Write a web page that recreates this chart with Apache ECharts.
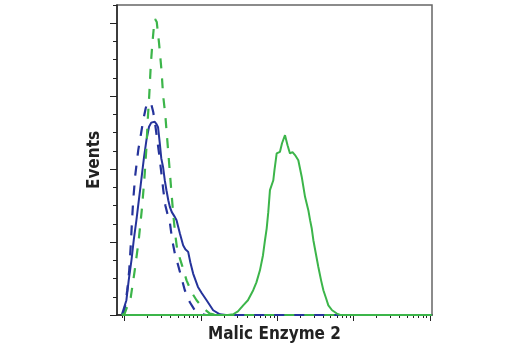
<!DOCTYPE html>
<html><head><meta charset="utf-8">
<script src="https://cdn.jsdelivr.net/npm/echarts@6/dist/echarts.min.js"></script>
<style>html,body{margin:0;padding:0;background:#fff}#c{width:520px;height:350px}</style>
</head><body><div id="c"></div>
<script>
const xTitle = 'Malic Enzyme 2';
const yTitle = 'Events';
// x: log10 of fluorescence intensity (decades), y: event count (relative)
const xMin = -0.097, xMax = 4.024;
const yMin = 0, yMax = 170, yStep = 10;
const yMajorTicks = [0, 40, 80, 120, 160];
const xDecades = [0, 1, 2, 3, 4];
const xMinorMultipliers = [2, 3, 4, 5, 6, 7, 8, 9];
const xExtraTicks = [-0.031];

const blueSolid = [[-0.035,0],[-0.018,0.4],[0.026,8.1],[0.056,19.0],[0.092,30.0],[0.122,41.0],[0.157,52.0],[0.178,59.3],[0.210,70.3],[0.236,79.5],[0.257,86.7],[0.288,95.9],[0.322,103.2],[0.351,105.5],[0.375,106.5],[0.397,106.0],[0.419,104.7],[0.440,103.0],[0.463,94.1],[0.482,86.0],[0.506,81.1],[0.528,73.9],[0.550,68.4],[0.574,62.9],[0.594,59.3],[0.620,56.4],[0.659,53.8],[0.682,52.0],[0.725,44.8],[0.768,38.2],[0.797,36.1],[0.834,34.6],[0.862,28.9],[0.899,22.7],[0.962,15.4],[1.013,11.9],[1.075,8.1],[1.161,2.6],[1.249,0.4],[1.328,0],[4.02,0]];
const blueDashed = [[-0.009,0],[0.010,5.3],[0.037,13.6],[0.063,24.5],[0.083,38.3],[0.100,52.0],[0.115,63.0],[0.142,76.7],[0.181,90.4],[0.214,98.6],[0.246,106.9],[0.279,113.5],[0.305,116.8],[0.325,117.3],[0.351,115.7],[0.377,111.3],[0.404,104.1],[0.430,95.9],[0.456,87.7],[0.482,78.3],[0.509,68.4],[0.535,60.2],[0.561,55.8],[0.594,50.9],[0.626,41.0],[0.659,33.9],[0.699,27.8],[0.738,21.8],[0.790,13.6],[0.856,7.0],[0.921,2.6],[0.987,0.7],[1.066,0],[4.02,0]];
const greenDashed = [[-0.035,0],[0.004,0.9],[0.083,9.7],[0.135,24.5],[0.187,41.0],[0.227,57.5],[0.260,73.9],[0.286,90.4],[0.305,106.9],[0.325,120.6],[0.345,137.1],[0.364,148.0],[0.384,157.4],[0.401,162.3],[0.423,160.7],[0.453,149.1],[0.485,134.3],[0.506,120.6],[0.535,109.6],[0.561,95.9],[0.587,82.2],[0.613,68.4],[0.640,54.7],[0.666,43.7],[0.692,35.5],[0.747,28.2],[0.813,19.0],[0.878,12.5],[0.944,8.1],[1.030,3.7],[1.118,0.8],[1.197,0],[4.02,0]];
const greenSolid = [[-0.03,0],[1.354,0],[1.423,0.4],[1.485,2.0],[1.554,5.3],[1.616,8.1],[1.685,13.6],[1.727,17.9],[1.773,24.5],[1.813,32.8],[1.839,41.0],[1.861,47.4],[1.882,56.4],[1.904,68.5],[1.948,73.9],[1.963,79.4],[1.992,88.6],[2.035,89.5],[2.062,94.2],[2.101,98.6],[2.134,93.1],[2.166,88.6],[2.199,89.3],[2.232,87.7],[2.275,84.9],[2.320,75.7],[2.363,64.8],[2.406,57.5],[2.429,52.0],[2.451,47.4],[2.472,41.0],[2.501,34.4],[2.537,26.3],[2.573,19.0],[2.603,13.6],[2.638,9.2],[2.668,5.3],[2.717,2.6],[2.779,0.8],[2.822,0],[4.02,0]];

const BLUE = '#25339b', GREEN = '#3cb54a';
const xMinorTicks = xExtraTicks.slice();
xDecades.slice(0, -1).forEach(d => xMinorMultipliers.forEach(m => xMinorTicks.push(d + Math.log10(m))));

const FONT = "'Liberation Sans Narrow','DejaVu Sans Condensed','Arial Narrow',sans-serif";
const chart = echarts.init(document.getElementById('c'), null, {renderer: 'canvas'});
const baseX = {type: 'value', min: xMin, max: xMax, position: 'bottom', splitLine: {show: false}, axisLabel: {show: false}};
const baseY = {type: 'value', min: yMin, max: yMax, position: 'left', splitLine: {show: false}, axisLabel: {show: false}};
chart.setOption({
  animation: false,
  backgroundColor: '#fff',
  grid: {left: 117, right: 88, top: 5, bottom: 35, show: true, borderColor: '#666', borderWidth: 1.5, containLabel: false},
  xAxis: [
    Object.assign({}, baseX, {
      name: xTitle, nameLocation: 'middle', nameGap: 11,
      nameTextStyle: {fontFamily: FONT, fontWeight: 'bold', fontSize: 17, color: '#222'},
      axisLine: {show: true, onZero: false, lineStyle: {color: '#222', width: 1.5}},
      axisTick: {show: true, length: 3, customValues: xMinorTicks, lineStyle: {color: '#222', width: 1}}
    }),
    Object.assign({}, baseX, {
      axisLine: {show: false, onZero: false},
      axisTick: {show: true, length: 6, customValues: xDecades, lineStyle: {color: '#222', width: 1}}
    })
  ],
  yAxis: [
    Object.assign({}, baseY, {
      name: yTitle, nameLocation: 'middle', nameGap: 14, nameRotate: 90,
      nameTextStyle: {fontFamily: FONT, fontWeight: 'bold', fontSize: 17, color: '#222'},
      interval: yStep,
      axisLine: {show: true, onZero: false, lineStyle: {color: '#222', width: 1.5}},
      axisTick: {show: true, length: 4, lineStyle: {color: '#222', width: 1}}
    }),
    Object.assign({}, baseY, {
      axisLine: {show: false, onZero: false},
      axisTick: {show: true, length: 7, customValues: yMajorTicks, lineStyle: {color: '#222', width: 1}}
    })
  ],
  series: [
    {type: 'line', data: blueSolid, showSymbol: false, symbol: 'none', lineStyle: {color: BLUE, width: 2}, z: 3},
    {type: 'line', data: blueDashed, showSymbol: false, symbol: 'none', lineStyle: {color: BLUE, width: 2.2, type: [10, 10]}, z: 4},
    {type: 'line', data: greenDashed, showSymbol: false, symbol: 'none', lineStyle: {color: GREEN, width: 2.2, type: [10, 10]}, z: 5},
    {type: 'line', data: greenSolid, showSymbol: false, symbol: 'none', lineStyle: {color: GREEN, width: 2}, z: 6}
  ]
});
</script>
</body></html>
